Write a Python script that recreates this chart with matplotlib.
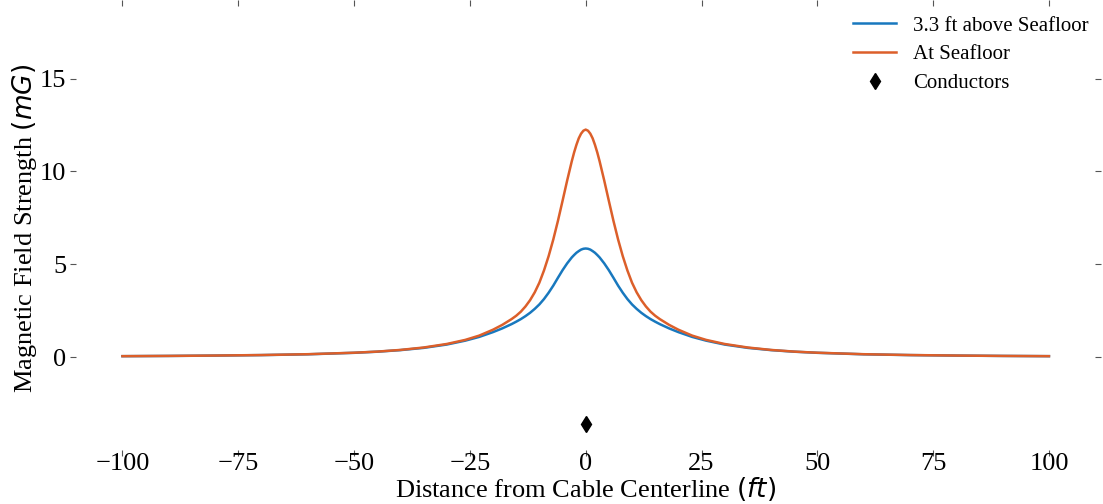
import numpy as np
import matplotlib
matplotlib.use('Agg')
import matplotlib.pyplot as plt

plt.rcParams['font.family'] = ['Liberation Serif', 'DejaVu Serif']

# distance from cable centerline (ft)
dist = [-100, -90, -80, -70, -60, -50, -45, -40, -35, -30, -26, -23, -20, -18, -16, -15, -14, -13, -12, -11,
        -10, -9, -8, -7, -6, -5, -4, -3, -2.5, -2, -1.5, -1, -0.5, 0,
        0.5, 1, 1.5, 2, 2.5, 3, 4, 5, 6, 7, 8, 9, 10,
        11, 12, 13, 14, 15, 16, 18, 20, 23, 26, 30, 35, 40, 45, 50, 60, 70, 80, 90, 100]

# field 3.3 ft above seafloor (mG)
above = [0.054, 0.067, 0.086, 0.112, 0.155, 0.235, 0.295, 0.38, 0.5, 0.68, 0.89, 1.09, 1.35, 1.55, 1.78, 1.91, 2.05, 2.21, 2.39, 2.6,
         2.84, 3.13, 3.47, 3.85, 4.27, 4.68, 5.05, 5.37, 5.5, 5.62, 5.71, 5.79, 5.835, 5.85,
         5.835, 5.79, 5.71, 5.62, 5.5, 5.37, 5.05, 4.68, 4.27, 3.85, 3.47, 3.13, 2.84,
         2.6, 2.39, 2.21, 2.05, 1.91, 1.78, 1.55, 1.35, 1.09, 0.89, 0.68, 0.5, 0.38, 0.295, 0.235, 0.155, 0.112, 0.086, 0.067, 0.054]

# field at seafloor (mG)
seafloor = [0.055, 0.068, 0.088, 0.115, 0.16, 0.24, 0.3, 0.39, 0.52, 0.71, 0.93, 1.16, 1.48, 1.74, 2.05, 2.23, 2.45, 2.73, 3.07, 3.49,
            4.01, 4.67, 5.44, 6.33, 7.33, 8.41, 9.51, 10.55, 11.02, 11.43, 11.78, 12.03, 12.19, 12.25,
            12.19, 12.03, 11.78, 11.43, 11.02, 10.55, 9.51, 8.41, 7.33, 6.33, 5.44, 4.67, 4.01,
            3.49, 3.07, 2.73, 2.45, 2.23, 2.05, 1.74, 1.48, 1.16, 0.93, 0.71, 0.52, 0.39, 0.3, 0.24, 0.16, 0.115, 0.088, 0.068, 0.055]

cond_x = [0]
cond_y = [-3.6]

fig = plt.figure(figsize=(11.03, 5.04), dpi=100)
ax = fig.add_axes([0.069, 0.107, 0.924, 0.881])

ax.plot(dist, above, color='#1878be', lw=1.8, label='3.3 ft above Seafloor')
ax.plot(dist, seafloor, color='#dc5f2a', lw=1.8, label='At Seafloor')
ax.plot(cond_x, cond_y, 'd', color='black', ms=8, ls='none', label='Conductors')

ax.set_xlim(-110, 110)
ax.set_ylim(-5, 18.9)
ax.set_xticks([-100, -75, -50, -25, 0, 25, 50, 75, 100])
ax.set_yticks([0, 5, 10, 15])

for s in ax.spines.values():
    s.set_visible(False)
ax.tick_params(axis='both', which='both', direction='out', length=4, width=0.8,
               color='#555555', labelsize=19, top=True, right=True)
ax.tick_params(axis='x', pad=-2)
ax.tick_params(axis='y', pad=3)

ax.set_xlabel('Distance from Cable Centerline $(ft)$', fontsize=19, labelpad=0)
ax.set_ylabel('Magnetic Field Strength $(mG)$', fontsize=19, labelpad=1)

ax.legend(loc='upper right', frameon=False, fontsize=15, handlelength=2.1,
          bbox_to_anchor=(1.012, 1.02), labelspacing=0.45)

fig.savefig('out.png', dpi=100)
